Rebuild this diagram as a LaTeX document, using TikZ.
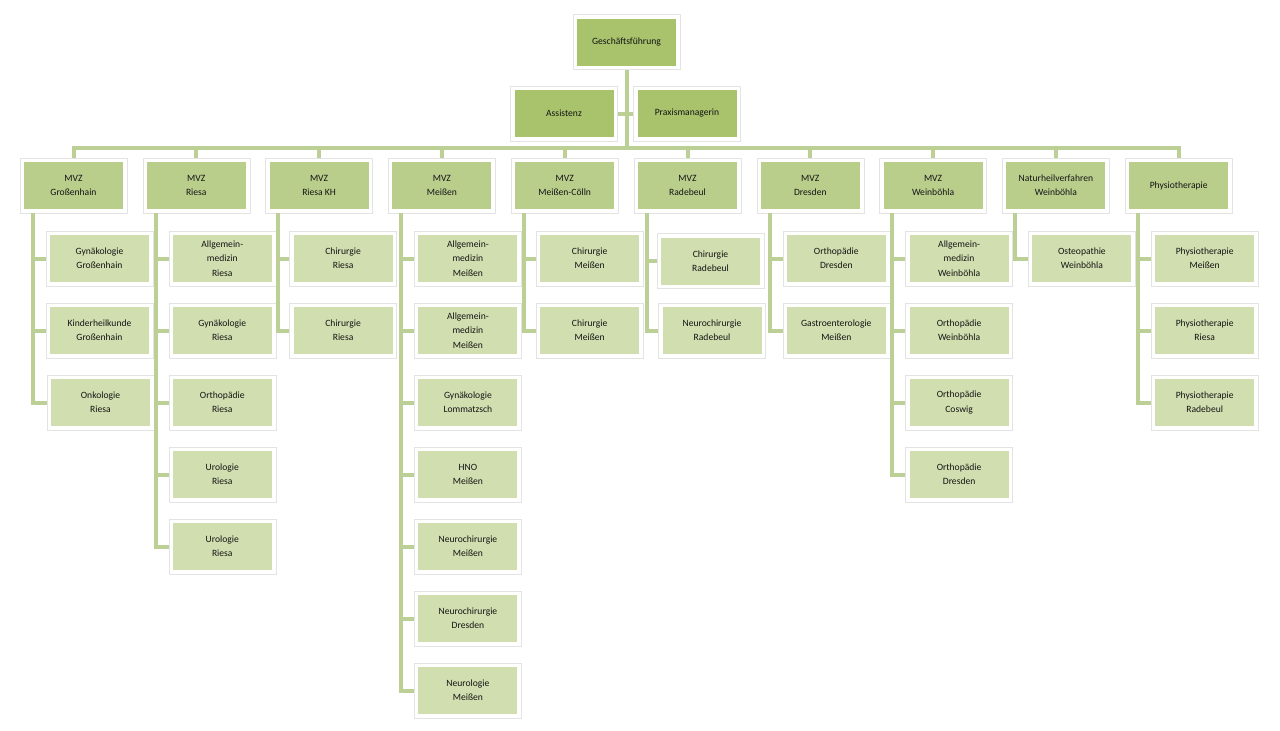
\documentclass[tikz,border=0pt]{standalone}
\usepackage{fontspec}
\setmainfont{Carlito}
\definecolor{lvlA}{RGB}{168,195,108}
\definecolor{lvlB}{RGB}{186,206,140}
\definecolor{lvlC}{RGB}{209,223,176}
\definecolor{conn}{RGB}{188,207,148}
\definecolor{txt}{RGB}{20,20,20}
\tikzset{
  box/.style={rectangle, minimum width=107pt, minimum height=55pt, inner sep=0pt,
    fill=white, draw=black!11, line width=0.5pt, align=center, text=txt,
    font=\fontsize{9.6}{14.2}\selectfont,
    path picture={\fill[#1] ([shift={(4pt,4pt)}]path picture bounding box.south west) rectangle ([shift={(-4pt,-4pt)}]path picture bounding box.north east);}},
  topbox/.style={box=lvlA},
  mvzbox/.style={box=lvlB},
  subbox/.style={box=lvlC},
  link/.style={draw=conn, line width=4pt}
}
\begin{document}
\begin{tikzpicture}[x=1pt,y=-1pt]
\useasboundingbox (0,0) rectangle (1280,731);
% top
\node[topbox] (gf) at (626.5,42) {Geschäftsführung};
\node[topbox] (as) at (564,113.5) {Assistenz};
\node[topbox] (pm) at (687,113.5) {Praxismanagerin};
% MVZ level
\node[mvzbox] (m0) at (73.5,185.5) {MVZ\\Großenhain};
\node[mvzbox] (m1) at (196.3,185.5) {MVZ\\Riesa};
\node[mvzbox] (m2) at (319.1,185.5) {MVZ\\Riesa KH};
\node[mvzbox] (m3) at (441.9,185.5) {MVZ\\Meißen};
\node[mvzbox] (m4) at (564.7,185.5) {MVZ\\Meißen-Cölln};
\node[mvzbox] (m5) at (687.5,185.5) {MVZ\\Radebeul};
\node[mvzbox] (m6) at (810.3,185.5) {MVZ\\Dresden};
\node[mvzbox] (m7) at (933.1,185.5) {MVZ\\Weinböhla};
\node[mvzbox] (m8) at (1055.9,185.5) {Naturheilverfahren\\Weinböhla};
\node[mvzbox] (m9) at (1178.7,185.5) {Physiotherapie};
% children
\node[subbox] (m0c1) at (99.5,258.5) {Gynäkologie\\Großenhain};
\node[subbox] (m0c2) at (99.5,330.5) {Kinderheilkunde\\Großenhain};
\node[subbox] (m0c3) at (100.5,402.5) {Onkologie\\Riesa};

\node[subbox] (m1c1) at (222.3,258.5) {Allgemein-\\medizin\\Riesa};
\node[subbox] (m1c2) at (222.3,330.5) {Gynäkologie\\Riesa};
\node[subbox] (m1c3) at (222.3,402.5) {Orthopädie\\Riesa};
\node[subbox] (m1c4) at (222.3,474.5) {Urologie\\Riesa};
\node[subbox] (m1c5) at (222.3,546.5) {Urologie\\Riesa};

\node[subbox] (m2c1) at (343.1,258.5) {Chirurgie\\Riesa};
\node[subbox] (m2c2) at (343.1,330.5) {Chirurgie\\Riesa};

\node[subbox] (m3c1) at (467.9,258.5) {Allgemein-\\medizin\\Meißen};
\node[subbox] (m3c2) at (467.9,330.5) {Allgemein-\\medizin\\Meißen};
\node[subbox] (m3c3) at (467.9,402.5) {Gynäkologie\\Lommatzsch};
\node[subbox] (m3c4) at (467.9,474.5) {HNO\\Meißen};
\node[subbox] (m3c5) at (467.9,546.5) {Neurochirurgie\\Meißen};
\node[subbox] (m3c6) at (467.9,618.5) {Neurochirurgie\\Dresden};
\node[subbox] (m3c7) at (467.9,690.5) {Neurologie\\Meißen};

\node[subbox] (m4c1) at (589.7,258.5) {Chirurgie\\Meißen};
\node[subbox] (m4c2) at (589.7,330.5) {Chirurgie\\Meißen};

\node[subbox] (m5c1) at (710.5,261) {Chirurgie\\Radebeul};
\node[subbox] (m5c2) at (712,330.5) {Neurochirurgie\\Radebeul};

\node[subbox] (m6c1) at (836.3,258.5) {Orthopädie\\Dresden};
\node[subbox] (m6c2) at (836.3,330.5) {Gastroenterologie\\Meißen};

\node[subbox] (m7c1) at (959.1,258.5) {Allgemein-\\medizin\\Weinböhla};
\node[subbox] (m7c2) at (959.1,330.5) {Orthopädie\\Weinböhla};
\node[subbox] (m7c3) at (959.1,402.5) {Orthopädie\\Coswig};
\node[subbox] (m7c4) at (959.1,474.5) {Orthopädie\\Dresden};

\node[subbox] (m8c1) at (1081.9,258.5) {Osteopathie\\Weinböhla};

\node[subbox] (m9c1) at (1204.7,258.5) {Physiotherapie\\Meißen};
\node[subbox] (m9c2) at (1204.7,330.5) {Physiotherapie\\Riesa};
\node[subbox] (m9c3) at (1204.7,402.5) {Physiotherapie\\Radebeul};

% connectors: top
\coordinate (bus) at (626.5,148);
\draw[link] (gf.south) -- (bus);
\draw[link] (as.east) -- (pm.west);
\draw[link] (m0.north) |- (bus) -| (m9.north);
\foreach \m in {m1,m2,m3,m4,m5,m6,m7,m8}{
  \draw[link] (\m.north) -- (\m.north |- bus);
}
% child lines
\foreach \m/\last in {m0/3,m1/5,m2/2,m3/7,m4/2,m5/2,m6/2,m7/4,m8/1,m9/3}{
  \coordinate (\m l) at ([xshift=13pt]\m.south west);
  \draw[link] (\m l) |- (\m c\last.west);
  \foreach \k in {1,...,\last}{
    \draw[link] (\m l |- \m c\k.west) -- (\m c\k.west);
  }
}
\end{tikzpicture}
\end{document}
